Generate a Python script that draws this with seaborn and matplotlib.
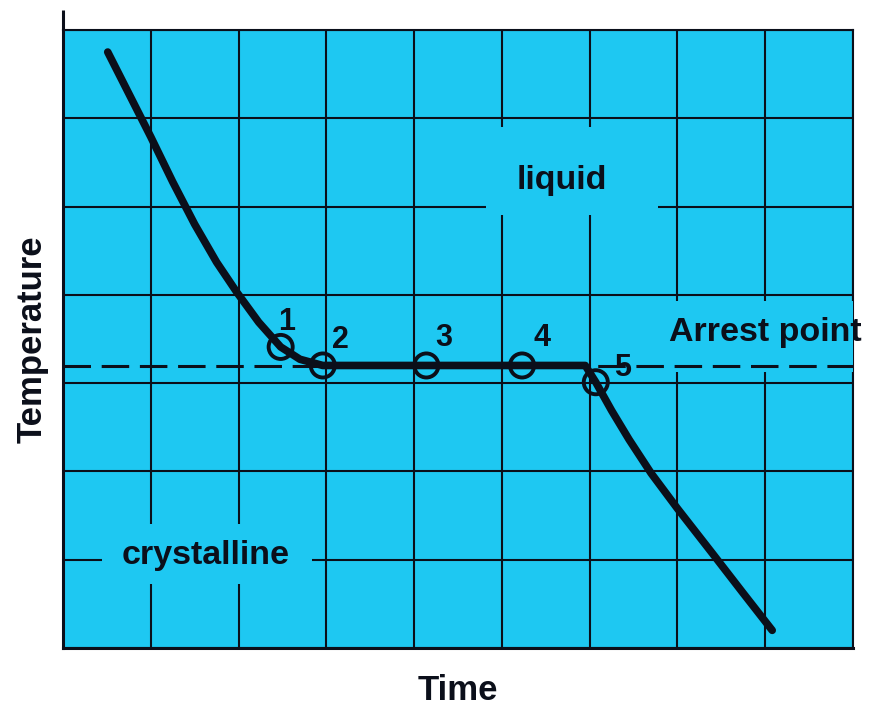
import matplotlib
matplotlib.use("Agg")
import matplotlib.pyplot as plt
from matplotlib.patches import Rectangle
import seaborn as sns
import pandas as pd

# Cooling curve (time vs temperature), grid units
curve_time = [0.51, 0.75, 1.0, 1.25, 1.5, 1.75, 1.98, 2.23, 2.48, 2.7, 2.96,
              4.14, 5.23, 5.95, 6.07, 6.25, 6.45, 6.7, 7.0, 7.4, 7.75, 8.08]
curve_temp = [6.75, 6.28, 5.79, 5.28, 4.8, 4.37, 4.03, 3.69, 3.41, 3.27, 3.2,
              3.2, 3.2, 3.2, 3.01, 2.69, 2.36, 1.98, 1.58, 1.07, 0.62, 0.2]

# numbered points on the curve
point_labels = ["1", "2", "3", "4", "5"]
point_time = [2.48, 2.96, 4.14, 5.23, 6.07]
point_temp = [3.41, 3.2, 3.2, 3.2, 3.01]

arrest_temp = 3.19
n_cols, n_rows = 9, 7

CYAN = "#1ec8f2"
INK = "#0b0f1a"

sns.set_style("whitegrid", {"axes.facecolor": CYAN, "grid.color": INK,
                            "axes.edgecolor": INK})
plt.rcParams['font.family'] = ['Liberation Sans', 'DejaVu Sans']
plt.rcParams['font.weight'] = 'bold'

fig = plt.figure(figsize=(8.77, 7.12), dpi=100)
ax = fig.add_axes([0.0718, 0.0899, 0.9008, 0.868])

curve = pd.DataFrame({"time": curve_time, "temp": curve_temp})
pts = pd.DataFrame({"time": point_time, "temp": point_temp, "label": point_labels})

# boxes behind the labels that break the grid
for x0, x1, y0, y1 in [(4.82, 6.78, 4.9, 5.9), (0.45, 2.84, 0.72, 1.4), (6.1, 9.0, 3.13, 3.93)]:
    ax.add_patch(Rectangle((x0, y0), x1 - x0, y1 - y0, facecolor=CYAN,
                           edgecolor="none", zorder=2.6, clip_on=False))

ax.axhline(arrest_temp, color=INK, lw=2.2, ls=(0, (9, 3.5)), zorder=2.7)

sns.lineplot(data=curve, x="time", y="temp", ax=ax, color=INK, lw=5.5,
             sort=False, zorder=3, solid_capstyle="round", solid_joinstyle="round")
sns.scatterplot(data=pts, x="time", y="temp", ax=ax, s=300, marker="o",
                facecolor="none", edgecolor=INK, linewidth=2.8, zorder=4)

offsets = [(0.07, 0.28), (0.2, 0.29), (0.2, 0.31), (0.23, 0.31), (0.3, 0.16)]
for lab, x, y, (dx, dy) in zip(point_labels, point_time, point_temp, offsets):
    ax.text(x + dx, y + dy, lab, fontsize=22, fontweight="bold", color=INK,
            ha="center", va="center", zorder=5)

ax.text(5.68, 5.3, "liquid", fontsize=24.5, fontweight="bold", color=INK,
        ha="center", va="center", zorder=5)
ax.text(1.63, 1.05, "crystalline", fontsize=24.5, fontweight="bold", color=INK,
        ha="center", va="center", zorder=5)
ax.text(8.0, 3.57, "Arrest point", fontsize=24.5, fontweight="bold", color=INK,
        ha="center", va="center", zorder=5, clip_on=False)

# left axis runs a bit past the top of the grid
ax.plot([0, 0], [n_rows, n_rows + 0.23], color=INK, lw=2.2, clip_on=False,
        solid_capstyle="butt")

ax.set_xlim(0, n_cols)
ax.set_ylim(0, n_rows)
ax.set_xticks(range(n_cols + 1))
ax.set_yticks(range(n_rows + 1))
ax.tick_params(length=0, labelbottom=False, labelleft=False)
ax.grid(True, lw=1.5)
ax.set_axisbelow(True)
for side in ["left", "bottom"]:
    ax.spines[side].set_linewidth(2.2)
for side in ["top", "right"]:
    ax.spines[side].set_linewidth(1.5)

ax.set_xlabel("Time", fontsize=25, fontweight="bold", color=INK, labelpad=19)
ax.set_ylabel("Temperature", fontsize=25, fontweight="bold", color=INK, labelpad=10)

fig.savefig("out.png", dpi=100, facecolor="white")
